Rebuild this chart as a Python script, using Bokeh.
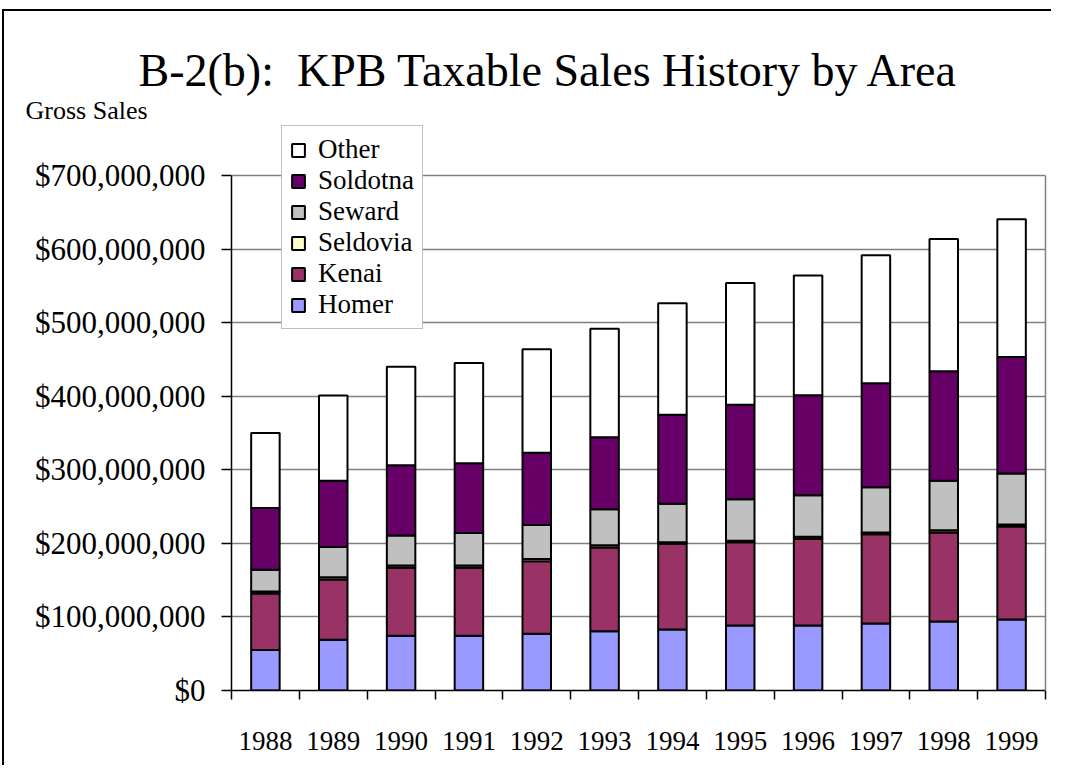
import numpy as np
from bokeh.plotting import figure
from bokeh.models import (ColumnDataSource, Range1d, FixedTicker, SingleIntervalTicker,
                          NumeralTickFormatter, Legend, LegendItem, Title, LinearAxis)
from bokeh.embed import file_html
from bokeh.resources import INLINE

# ---- data (millions of dollars) ----
years = ["1988", "1989", "1990", "1991", "1992", "1993",
         "1994", "1995", "1996", "1997", "1998", "1999"]
homer = [55.0, 69.0, 74.5, 74.5, 77.0, 80.5, 82.8, 88.3, 88.3, 91.0, 93.8, 96.6]
kenai = [77.0, 82.0, 92.5, 92.5, 98.6, 114.0, 116.2, 113.1, 117.7, 121.4, 120.9, 126.4]
seldovia = [2.5, 3.0, 3.0, 3.0, 3.0, 3.0, 2.5, 2.0, 3.0, 2.5, 3.0, 2.5]
seward = [29.5, 41.0, 40.6, 44.0, 46.2, 49.0, 52.5, 56.4, 56.3, 61.4, 67.3, 69.5]
soldotna = [84.0, 90.0, 95.4, 95.0, 98.2, 97.6, 120.7, 128.7, 136.1, 141.2, 149.0, 158.3]
other = [102.0, 116.0, 134.0, 136.0, 141.0, 147.5, 151.7, 165.5, 162.6, 174.2, 179.8, 187.2]

series_names = ["Homer", "Kenai", "Seldovia", "Seward", "Soldotna", "Other"]
series_vals = [homer, kenai, seldovia, seward, soldotna, other]
colors = ["#9999FF", "#993366", "#FFFFCC", "#C0C0C0", "#660066", "#FFFFFF"]
y_max = 700e6

n = len(years)
centers = list(np.arange(n) + 0.5)
bounds = list(np.arange(n + 1).astype(float))

data = {"x": centers}
for name, vals in zip(series_names, series_vals):
    data[name] = [v * 1e6 for v in vals]
source = ColumnDataSource(data)

FONT = "Liberation Serif"

# layout in pixels
axis_px = 515          # height of 0..700M
extra_px = 56          # frame space above the 700M line (room for the legend)
y_end = y_max * (axis_px + extra_px) / axis_px

p = figure(width=1051, height=765,
           x_range=Range1d(0, n), y_range=Range1d(0, y_end),
           output_backend="svg", toolbar_location=None,
           min_border_left=231, min_border_right=6,
           min_border_top=175 - extra_px, min_border_bottom=75)
p.background_fill_color = "white"
p.border_fill_color = None
p.outline_line_color = None
# outer chart border (top and left edges; the rest runs off the page)
p.styles = {
    "background": ("linear-gradient(#000,#000) 2px 9px / 2px calc(100% - 9px) no-repeat, "
                   "linear-gradient(#000,#000) 2px 9px / calc(100% - 2px) 2px no-repeat, "
                   "#ffffff"),
}

renderers = p.vbar_stack(series_names, x="x", width=0.42, source=source,
                         fill_color=colors, line_color="black", line_width=2)

# x axis: labels at centers, ticks at category boundaries (minor ticks)
xa = p.xaxis[0]
xa.ticker = FixedTicker(ticks=centers, minor_ticks=bounds)
xa.major_label_overrides = {c: y for c, y in zip(centers, years)}
xa.major_tick_out = 0
xa.major_tick_in = 0
xa.minor_tick_out = 9
xa.minor_tick_in = 0
xa.minor_tick_line_color = "black"
xa.minor_tick_line_width = 1.5
xa.axis_line_color = "black"
xa.axis_line_width = 1.5
xa.major_label_standoff = 32
xa.major_label_text_font = FONT
xa.major_label_text_font_size = "27px"
xa.major_label_text_color = "black"

ya = p.yaxis[0]
ya.ticker = SingleIntervalTicker(interval=100e6, num_minor_ticks=0)
ya.formatter = NumeralTickFormatter(format="$0,0")
ya.bounds = (0, y_max)
ya.major_tick_out = 10
ya.major_tick_in = 0
ya.minor_tick_out = 0
ya.minor_tick_in = 0
ya.axis_line_color = "black"
ya.axis_line_width = 1.5
ya.major_tick_line_color = "black"
ya.major_tick_line_width = 1.5
ya.major_label_standoff = 16
ya.major_label_text_font = FONT
ya.major_label_text_font_size = "31px"
ya.major_label_text_color = "black"

# right border of the plot area, as a bare axis line
ra = LinearAxis(bounds=(0, y_max), ticker=FixedTicker(ticks=[]),
                major_tick_out=0, major_tick_in=0, minor_tick_out=0, minor_tick_in=0,
                axis_line_color="#808080", axis_line_width=1.5)
p.add_layout(ra, "right")

p.xgrid.visible = False
p.ygrid.grid_line_color = "#808080"
p.ygrid.grid_line_width = 1.5

items = [LegendItem(label=name, renderers=[r])
         for name, r in zip(series_names[::-1], renderers[::-1])]
legend = Legend(items=items, location=(50, 361),
                label_text_font=FONT, label_text_font_size="27px",
                label_text_color="black",
                glyph_width=16, glyph_height=16, label_standoff=12,
                label_height=27, spacing=0, padding=8, margin=0,
                border_line_color="#808080", border_line_width=1.5,
                background_fill_color="white", background_fill_alpha=1.0)
p.add_layout(legend)

# "Gross Sales" (nearest the frame), then the main title above it
gs = Title(text="Gross Sales", align="left", offset=-206, standoff=-12,
           vertical_align="middle",
           text_font=FONT, text_font_size="26px", text_font_style="normal",
           text_color="black")
p.add_layout(gs, "above")

p.title.text = "B-2(b):\u00a0 KPB Taxable Sales History by Area"
p.title.align = "left"
p.title.vertical_align = "middle"
p.title.offset = -93
p.title.standoff = 8
p.title.text_font = FONT
p.title.text_font_size = "46px"
p.title.text_font_style = "normal"
p.title.text_color = "black"

open("out.html", "w").write(file_html(p, INLINE))
